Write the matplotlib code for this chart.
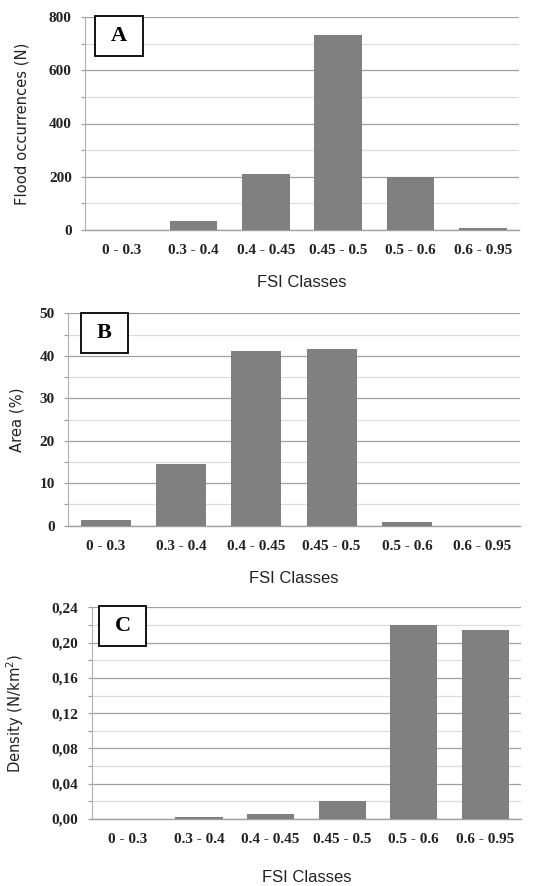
import matplotlib
matplotlib.use("Agg")
import matplotlib.pyplot as plt
from matplotlib.ticker import MultipleLocator, FuncFormatter
from matplotlib.patches import Rectangle

categories = ["0 - 0.3", "0.3 - 0.4", "0.4 - 0.45", "0.45 - 0.5", "0.5 - 0.6", "0.6 - 0.95"]
flood_occurrences = [0, 35, 211, 731, 198, 6]
area_pct = [1.35, 14.5, 41.05, 41.6, 0.95, 0.0]
density = [0.0, 0.0026, 0.006, 0.0208, 0.2196, 0.2139]

panel_letters = ["A", "B", "C"]
y_labels = ["Flood occurrences (N)", "Area (%)", "Density (N/km$^2$)"]
x_label = "FSI Classes"

fig = plt.figure(figsize=(5.34, 8.86), dpi=100)

W, H = 534, 886
def rect(l, r, t, b):
    return [l / W, 1 - b / H, (r - l) / W, (b - t) / H]

specs = [
    dict(rect=rect(85, 519, 17, 230), data=flood_occurrences, ymax=800, major=200, minor=100,
         fmt=lambda v, p: f"{int(round(v))}", letter_box=(95, 143, 16, 56), ylab_x=23, xt_pad=10, xl_pad=13),
    dict(rect=rect(68, 520, 313.3, 525.7), data=area_pct, ymax=50, major=10, minor=5,
         fmt=lambda v, p: f"{int(round(v))}", letter_box=(81, 128, 313, 353), ylab_x=18, xt_pad=10, xl_pad=13),
    dict(rect=rect(91.7, 521, 607.3, 819), data=density, ymax=0.24, major=0.04, minor=0.02,
         fmt=lambda v, p: f"{v:.2f}".replace(".", ","), letter_box=(99, 146, 606, 646), ylab_x=19, xt_pad=10, xl_pad=17),
]

tick_font = dict(family="Liberation Serif", weight="bold", size=11)

for i, s in enumerate(specs):
    ax = fig.add_axes(s["rect"])
    x = list(range(len(categories)))
    ax.bar(x, s["data"], width=0.66, color="#808080", zorder=3)
    ax.set_xlim(-0.5, len(categories) - 0.5)
    ax.set_ylim(0, s["ymax"])
    ax.yaxis.set_major_locator(MultipleLocator(s["major"]))
    ax.yaxis.set_minor_locator(MultipleLocator(s["minor"]))
    ax.yaxis.set_major_formatter(FuncFormatter(s["fmt"]))
    ax.grid(which="major", axis="y", color="#a0a0a0", linewidth=0.9, zorder=0)
    ax.grid(which="minor", axis="y", color="#dcdcdc", linewidth=0.9, zorder=0)
    for sp in ["top", "right"]:
        ax.spines[sp].set_visible(False)
    ax.spines["left"].set_color("#b0b0b0")
    ax.spines["bottom"].set_color("#a0a0a0")
    ax.spines["bottom"].set_linewidth(1.0)
    ax.tick_params(axis="y", which="both", direction="out", length=3, color="#a0a0a0", width=0.9, pad=6.5)
    ax.tick_params(axis="x", length=0, pad=s["xt_pad"])
    ax.set_xticks(x)
    ax.set_xticklabels(categories)
    for lab in ax.get_xticklabels() + ax.get_yticklabels():
        lab.set_fontfamily(tick_font["family"])
        lab.set_fontweight(tick_font["weight"])
        lab.set_fontsize(tick_font["size"])
        lab.set_color("#222222")
    ax.set_xlabel(x_label, fontsize=12, family="Liberation Sans", color="#222222", labelpad=s["xl_pad"])
    ax.set_ylabel(y_labels[i], fontsize=10.6, family="DejaVu Sans", color="#222222")
    ax.yaxis.set_label_coords((s["ylab_x"] + 7 - s["rect"][0] * W) / (s["rect"][2] * W), 0.5)
    l, r, t, b = s["letter_box"]
    fig.patches.append(Rectangle((l / W, 1 - b / H), (r - l) / W, (b - t) / H, transform=fig.transFigure,
                                 fc="white", ec="black", lw=1.3, zorder=5))
    fig.text((l + r) / 2 / W, 1 - (t + b) / 2 / H, panel_letters[i], ha="center", va="center",
             fontsize=16, family="Liberation Serif", weight="bold", zorder=10)

fig.savefig("out.png", dpi=100)
